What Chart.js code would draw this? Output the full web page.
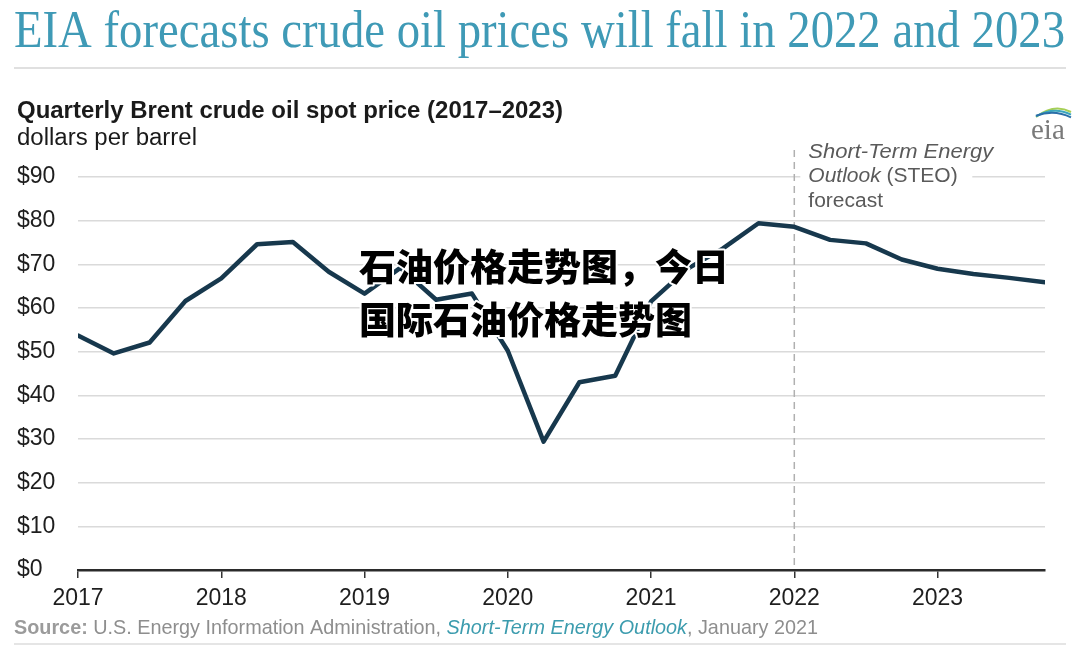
<!DOCTYPE html>
<html>
<head>
<meta charset="utf-8">
<script src="https://cdn.jsdelivr.net/npm/chart.js@4"></script>
<style>
    body { margin: 0; background: #fff; }
    #wrap { width: 1080px; height: 649px; position: relative; }
</style>
</head>
<body>
<div id="wrap"><canvas id="brentChart"></canvas></div>
<script>
// quarterly Brent spot price, dollars per barrel (2017Q1 .. 2023Q4)
const quarters = [
    2017, 2017.25, 2017.5, 2017.75,
    2018, 2018.25, 2018.5, 2018.75,
    2019, 2019.25, 2019.5, 2019.75,
    2020, 2020.25, 2020.5, 2020.75,
    2021, 2021.25, 2021.5, 2021.75,
    2022, 2022.25, 2022.5, 2022.75,
    2023, 2023.25, 2023.5, 2023.75,
];
const brentPrices = [
    53.7, 49.6, 52.1, 61.6,
    66.8, 74.6, 75.1, 68.3,
    63.3, 69.2, 61.9, 63.3,
    50.2, 29.4, 43.0, 44.5,
    61.5, 68.9, 73.6, 79.4,
    78.6, 75.6, 74.8, 71.1,
    69.0, 67.8, 66.9, 65.9,
];
const yearTicks = [2017, 2018, 2019, 2020, 2021, 2022, 2023];
const forecastStart = 2022;

const titleText = 'EIA forecasts crude oil prices will fall in 2022 and 2023';
const chartTitle = 'Quarterly Brent crude oil spot price (2017\u20132023)';
const unitText = 'dollars per barrel';
const overlayLines = ['石油价格走势图，今日', '国际石油价格走势图'];

const SANS = '"Liberation Sans", Arial, sans-serif';
const SERIF = '"Liberation Serif", "Times New Roman", serif';

function fitText(ctx, text, x, y, w) {
    const m = ctx.measureText(text).width;
    ctx.save();
    ctx.translate(x, y);
    ctx.scale(w / m, 1);
    ctx.fillText(text, 0, 0);
    ctx.restore();
}

const decorPlugin = {
    id: 'decor',
    beforeDatasetsDraw(chart) {
        const ctx = chart.ctx;
        const xs = chart.scales.x;
        const ys = chart.scales.y;
        const fx = xs.getPixelForValue(forecastStart);

        // white box behind the STEO note (cuts the $90 gridline)
        ctx.save();
        ctx.fillStyle = '#fff';
        ctx.fillRect(fx + 6, 138, 172, 74);

        // dashed forecast divider
        ctx.strokeStyle = '#b0b0b0';
        ctx.lineWidth = 1.5;
        ctx.setLineDash([7, 5]);
        ctx.beginPath();
        ctx.moveTo(fx, 150);
        ctx.lineTo(fx, ys.getPixelForValue(0));
        ctx.stroke();
        ctx.setLineDash([]);

        // STEO note
        ctx.fillStyle = '#5a5a5a';
        ctx.textBaseline = 'alphabetic';
        ctx.font = 'italic 20px ' + SANS;
        fitText(ctx, 'Short-Term Energy', fx + 14, 158, 185);
        const ow = ctx.measureText('Outlook ').width * 1.05;
        ctx.save();
        ctx.translate(fx + 14, 182);
        ctx.scale(1.05, 1);
        ctx.fillText('Outlook', 0, 0);
        ctx.font = '20px ' + SANS;
        ctx.fillText('(STEO)', ow / 1.05, 0);
        ctx.fillText('forecast', 0, 25);
        ctx.restore();
        ctx.restore();
    },
    afterDraw(chart) {
        const ctx = chart.ctx;
        ctx.save();
        ctx.textBaseline = 'alphabetic';
        ctx.textAlign = 'left';

        // headline
        ctx.fillStyle = '#3f9ab6';
        ctx.font = '52px ' + SERIF;
        fitText(ctx, titleText, 14, 47, 1051);

        ctx.strokeStyle = '#d6d6d6';
        ctx.lineWidth = 1.5;
        ctx.beginPath();
        ctx.moveTo(14, 68);
        ctx.lineTo(1066, 68);
        ctx.stroke();

        // chart title + unit
        ctx.fillStyle = '#1a1a1a';
        ctx.font = 'bold 23px ' + SANS;
        fitText(ctx, chartTitle, 17, 118, 546);
        ctx.font = '23px ' + SANS;
        fitText(ctx, unitText, 17, 145, 180);

        // eia logo
        ctx.fillStyle = '#7a7a7a';
        ctx.font = '29px ' + SERIF;
        ctx.fillText('eia', 1031, 139);
        const arcs = [['#a6cf55', 0], ['#3aa6be', 3], ['#2b6fa8', 6]];
        arcs.forEach(([c, d]) => {
            ctx.strokeStyle = c;
            ctx.lineWidth = 2;
            ctx.beginPath();
            ctx.moveTo(1036, 117 - d * 0.2);
            ctx.quadraticCurveTo(1054, 103 + d, 1071, 112 + d * 0.9);
            ctx.stroke();
        });

        // source line
        const segs = [
            ['bold 21px ' + SANS, '#9b9b9b', 'Source: '],
            ['21px ' + SANS, '#8e8e8e', 'U.S. Energy Information Administration, '],
            ['italic 21px ' + SANS, '#3c9cae', 'Short-Term Energy Outlook'],
            ['21px ' + SANS, '#8e8e8e', ', January 2021'],
        ];
        let total = 0;
        segs.forEach(s => { ctx.font = s[0]; total += ctx.measureText(s[2]).width; });
        ctx.save();
        ctx.translate(14, 634);
        ctx.scale(804 / total, 1);
        let cx = 0;
        segs.forEach(s => {
            ctx.font = s[0];
            ctx.fillStyle = s[1];
            ctx.fillText(s[2], cx, 0);
            cx += ctx.measureText(s[2]).width;
        });
        ctx.restore();

        ctx.strokeStyle = '#dcdcdc';
        ctx.lineWidth = 1.5;
        ctx.beginPath();
        ctx.moveTo(14, 644);
        ctx.lineTo(1066, 644);
        ctx.stroke();

        // overlay caption
        ctx.font = '900 37px "Noto Sans CJK SC", sans-serif';
        ctx.lineJoin = 'round';
        ctx.strokeStyle = '#fff';
        ctx.lineWidth = 4;
        ctx.fillStyle = '#000';
        ctx.strokeText(overlayLines[0], 359, 281);
        ctx.fillText(overlayLines[0], 359, 281);
        ctx.strokeText(overlayLines[1], 359, 334);
        ctx.fillText(overlayLines[1], 359, 334);

        ctx.restore();
    }
};

const ctx = document.getElementById('brentChart').getContext('2d');

new Chart(ctx, {
    type: 'line',
    data: {
        datasets: [{
            data: quarters.map((q, i) => ({ x: q, y: brentPrices[i] })),
            borderColor: '#17384d',
            borderWidth: 4.5,
            pointRadius: 0,
            tension: 0,
            borderJoinStyle: 'round',
            borderCapStyle: 'round',
        }],
    },
    options: {
        responsive: true,
        maintainAspectRatio: false,
        animation: false,
        layout: {
            padding: { left: 17, right: 35, top: 177, bottom: 34 },
        },
        plugins: {
            legend: { display: false },
            tooltip: { enabled: false },
        },
        scales: {
            x: {
                type: 'linear',
                min: 2017,
                max: 2023.75,
                afterBuildTicks: (scale) => {
                    scale.ticks = yearTicks.map(v => ({ value: v }));
                },
                afterFit: (scale) => { scale.height = 45; },
                grid: {
                    drawOnChartArea: false,
                    drawTicks: true,
                    tickLength: 8,
                    color: '#333',
                    lineWidth: 1.5,
                },
                border: { display: true, color: '#2b2b2b', width: 2.5 },
                ticks: {
                    callback: v => String(v),
                    color: '#1e1e1e',
                    font: { family: SANS, size: 23 },
                    padding: 7,
                    maxRotation: 0,
                },
            },
            y: {
                min: 0,
                max: 90,
                afterFit: (scale) => { scale.width = 61; },
                grid: {
                    color: c => c.tick && c.tick.value === 0 ? '#2b2b2b' : '#dadada',
                    lineWidth: 1.5,
                    drawTicks: false,
                },
                border: { display: false },
                ticks: {
                    stepSize: 10,
                    crossAlign: 'far',
                    padding: 0,
                    callback: v => '$' + v,
                    color: '#1e1e1e',
                    font: { family: SANS, size: 23 },
                },
            },
        },
    },
    plugins: [decorPlugin],
});
</script>
</body>
</html>
